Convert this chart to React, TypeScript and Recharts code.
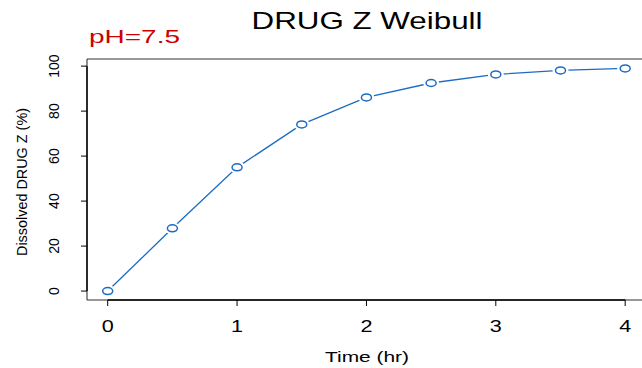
import { LineChart, Line, XAxis, YAxis, ReferenceLine } from 'recharts'

const times = [0, 0.5, 1, 1.5, 2, 2.5, 3, 3.5, 4]
const dissolved = [0, 27.9, 55.0, 74.1, 86.1, 92.5, 96.3, 98.1, 99.0]
const xTicks = [0, 1, 2, 3, 4]
const yTicks = [0, 20, 40, 60, 80, 100]

// the plot box is cut off by the right edge of the picture
const xDomain = [-0.16, 4.13]
const yDomain = [-3.968, 103.168]

const BLUE = '#1c6bc4'
const FONT = '"Liberation Sans", Arial, sans-serif'

const data = times.map((t, i) => ({ time: t, value: dissolved[i] }))

function XTick(props: any) {
  const { x, y, payload } = props
  return (
    <text
      transform={`translate(${x},${y + 23.5}) scale(1.35,1)`}
      textAnchor="middle"
      fontSize={16}
      fontFamily={FONT}
      fill="#000"
    >
      {payload.value}
    </text>
  )
}

function YTick(props: any) {
  const { x, y, payload } = props
  return (
    <text
      transform={`translate(${x - 20.5},${y}) rotate(-90)`}
      textAnchor="middle"
      fontSize={14}
      fontFamily={FONT}
      fill="#000"
    >
      {payload.value}
    </text>
  )
}

function Dot(props: any) {
  const { cx, cy } = props
  return (
    <g>
      <ellipse cx={cx} cy={cy} rx={8} ry={6} fill="#fff" />
      <ellipse cx={cx} cy={cy} rx={5} ry={3.5} fill="#fff" stroke={BLUE} strokeWidth={1.5} />
    </g>
  )
}

export default function App() {
  return (
    <div style={{ position: 'relative', width: 642, height: 368, overflow: 'hidden' }}>
      <style>{'body { margin: 0; overflow: hidden; }'}</style>
      <LineChart
        width={642}
        height={368}
        data={data}
        margin={{ top: 59, right: 0, left: 0, bottom: 0 }}
      >
        <XAxis
          dataKey="time"
          type="number"
          domain={xDomain}
          ticks={xTicks}
          allowDataOverflow
          height={68}
          tickSize={6}
          axisLine={false}
          tickLine={{ stroke: '#000' }}
          tick={<XTick />}
        />
        <YAxis
          type="number"
          domain={yDomain}
          ticks={yTicks}
          allowDataOverflow
          width={87}
          tickSize={6}
          axisLine={false}
          tickLine={{ stroke: '#000' }}
          tick={<YTick />}
        />
        <ReferenceLine y={yDomain[0]} stroke="#333" strokeWidth={1.1} ifOverflow="visible" />
        <ReferenceLine y={yDomain[1]} stroke="#333" strokeWidth={1.1} ifOverflow="visible" />
        <ReferenceLine x={xDomain[0]} stroke="#333" strokeWidth={1.1} ifOverflow="visible" />
        <ReferenceLine
          segment={[{ x: xTicks[0], y: yDomain[0] }, { x: xTicks[xTicks.length - 1], y: yDomain[0] }]}
          stroke="#000"
          strokeWidth={1.4}
          ifOverflow="visible"
        />
        <ReferenceLine
          segment={[{ x: xDomain[0], y: yTicks[0] }, { x: xDomain[0], y: yTicks[yTicks.length - 1] }]}
          stroke="#000"
          strokeWidth={1.4}
          ifOverflow="visible"
        />
        <Line
          dataKey="value"
          stroke={BLUE}
          strokeWidth={1.3}
          dot={<Dot />}
          activeDot={false}
          isAnimationActive={false}
        />
      </LineChart>
      <svg
        width={642}
        height={368}
        style={{ position: 'absolute', left: 0, top: 0, pointerEvents: 'none' }}
      >
        <text x={367} y={29} textAnchor="middle" fontSize={24} fontFamily={FONT} fill="#000" textLength={231} lengthAdjust="spacingAndGlyphs">
          DRUG Z Weibull
        </text>
        <text x={89} y={43} fontSize={19} fontFamily={FONT} fill="#cc0000" textLength={91} lengthAdjust="spacingAndGlyphs">
          pH=7.5
        </text>
        <text x={367} y={361.5} textAnchor="middle" fontSize={15.5} fontFamily={FONT} fill="#000" textLength={84} lengthAdjust="spacingAndGlyphs">
          Time (hr)
        </text>
        <text
          transform="translate(26.7,182) rotate(-90)"
          textAnchor="middle"
          fontSize={15}
          fontFamily={FONT}
          fill="#000"
          textLength={148}
          lengthAdjust="spacingAndGlyphs"
        >
          Dissolved DRUG Z (%)
        </text>
      </svg>
    </div>
  )
}
